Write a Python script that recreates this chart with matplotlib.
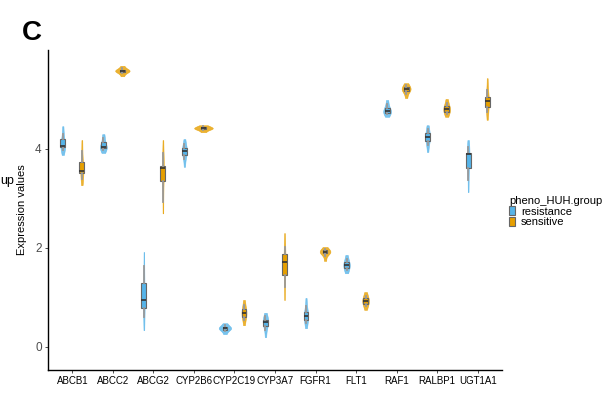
import numpy as np
import matplotlib
matplotlib.use("Agg")
import matplotlib.pyplot as plt
from matplotlib.patches import Patch
from matplotlib import mlab

plt.rcParams['font.family'] = ['Liberation Sans', 'DejaVu Sans']

genes = ["ABCB1", "ABCC2", "ABCG2", "CYP2B6", "CYP2C19", "CYP3A7",
         "FGFR1", "FLT1", "RAF1", "RALBP1", "UGT1A1"]
groups = ["resistance", "sensitive"]

# expression values per gene (9 values each)
resistance = [
    [3.88, 3.98, 4.04, 4.06, 4.07, 4.12, 4.20, 4.30, 4.46],
    [3.92, 3.98, 4.02, 4.03, 4.04, 4.08, 4.14, 4.22, 4.30],
    [0.34, 0.61, 0.79, 0.86, 0.95, 1.10, 1.29, 1.64, 1.92],
    [3.64, 3.80, 3.88, 3.93, 3.96, 3.99, 4.02, 4.10, 4.20],
    [0.26, 0.32, 0.35, 0.37, 0.38, 0.39, 0.41, 0.44, 0.48],
    [0.20, 0.35, 0.42, 0.48, 0.51, 0.53, 0.55, 0.62, 0.69],
    [0.38, 0.48, 0.55, 0.60, 0.63, 0.67, 0.71, 0.82, 0.99],
    [1.49, 1.55, 1.59, 1.63, 1.66, 1.69, 1.72, 1.78, 1.86],
    [4.65, 4.70, 4.73, 4.75, 4.77, 4.80, 4.83, 4.90, 4.99],
    [3.94, 4.08, 4.16, 4.20, 4.24, 4.28, 4.32, 4.40, 4.48],
    [3.13, 3.37, 3.62, 3.80, 3.90, 3.91, 3.92, 4.05, 4.18],
]
sensitive = [
    [3.27, 3.40, 3.52, 3.54, 3.56, 3.62, 3.74, 3.95, 4.18],
    [5.47, 5.53, 5.56, 5.57, 5.58, 5.59, 5.60, 5.63, 5.68],
    [2.70, 2.93, 3.35, 3.50, 3.61, 3.63, 3.66, 3.92, 4.18],
    [4.34, 4.38, 4.40, 4.41, 4.42, 4.43, 4.44, 4.46, 4.48],
    [0.44, 0.55, 0.61, 0.66, 0.69, 0.72, 0.77, 0.85, 0.95],
    [0.95, 1.21, 1.45, 1.60, 1.72, 1.80, 1.88, 2.02, 2.30],
    [1.74, 1.84, 1.89, 1.91, 1.92, 1.93, 1.95, 1.98, 2.02],
    [0.75, 0.82, 0.87, 0.90, 0.93, 0.96, 0.99, 1.04, 1.11],
    [5.03, 5.12, 5.17, 5.19, 5.21, 5.23, 5.25, 5.29, 5.33],
    [4.65, 4.71, 4.75, 4.78, 4.81, 4.84, 4.87, 4.93, 5.01],
    [4.59, 4.75, 4.85, 4.92, 4.97, 5.01, 5.05, 5.20, 5.43],
]
yticks = [0, 2, 4]

colors = {"resistance": "#56B4E9", "sensitive": "#E69F00"}
dodge = 0.235
bw = 0.6


def peak_density(vals):
    kde = mlab.GaussianKDE(np.asarray(vals), bw)
    grid = np.linspace(min(vals), max(vals), 200)
    return kde.evaluate(grid).max()


fig = plt.figure(figsize=(6.05, 4.03), dpi=100)
ax = fig.add_axes([48 / 605, 33 / 403, 454 / 605, 320 / 403])

x = np.arange(1, len(genes) + 1)
all_sets = [(resistance, -dodge, "resistance"), (sensitive, dodge, "sensitive")]

# area scaling like ggplot: width follows the peak density
peaks = [peak_density(v) for data, _, _ in all_sets for v in data]
pmax = max(peaks)

for data, off, g in all_sets:
    pos = x + off
    w = [0.46 * peak_density(v) / pmax for v in data]
    vp = ax.violinplot(data, positions=pos, widths=w, bw_method=bw,
                       showextrema=False, points=200)
    for b in vp['bodies']:
        b.set_facecolor(colors[g])
        b.set_edgecolor(colors[g])
        b.set_linewidth(0.4)
        b.set_alpha(0.8)
    bp = ax.boxplot(data, positions=pos, widths=0.12, patch_artist=True,
                    whis=(10, 90), showfliers=False, showcaps=False,
                    manage_ticks=False)
    for b in bp['boxes']:
        b.set_facecolor(colors[g])
        b.set_edgecolor('#666666')
        b.set_linewidth(0.8)
    for wl in bp['whiskers']:
        wl.set_color('#999999')
        wl.set_linewidth(1.3)
    for m in bp['medians']:
        m.set_color('#333333')
        m.set_linewidth(1.2)

ax.set_xlim(0.4, len(genes) + 0.6)
ax.set_ylim(-0.465, 6.0)
ax.set_xticks(x)
ax.set_xticklabels(genes, fontsize=7, color='black')
ax.set_yticks(yticks)
ax.set_yticklabels([str(t) for t in yticks], fontsize=8.5, color='#4D4D4D')
ax.tick_params(axis='both', length=2.5, width=0.6, color='#333333', pad=2)
for s in ['top', 'right']:
    ax.spines[s].set_visible(False)
for s in ['left', 'bottom']:
    ax.spines[s].set_linewidth(1.0)
    ax.spines[s].set_color('black')
ax.set_ylabel("Expression values", fontsize=8, labelpad=6)

handles = [Patch(facecolor=colors[g], edgecolor='#666666', linewidth=0.8, label=g)
           for g in groups]
leg = fig.legend(handles=handles, title="pheno_HUH.group", loc='upper left',
                 bbox_to_anchor=(507 / 605, 1 - 194 / 403), frameon=False,
                 fontsize=8, title_fontsize=8, handlelength=0.55,
                 handleheight=0.9, handletextpad=0.5, labelspacing=0.0,
                 borderaxespad=0, borderpad=0.2, alignment='left')

fig.text(22 / 605, 1 - 33 / 403, "C", fontsize=20, fontweight='bold',
         va='center', ha='left')
fig.text(0 / 605, 1 - 181 / 403, "up", fontsize=9, va='center', ha='left')

fig.savefig("out.png", dpi=100)
